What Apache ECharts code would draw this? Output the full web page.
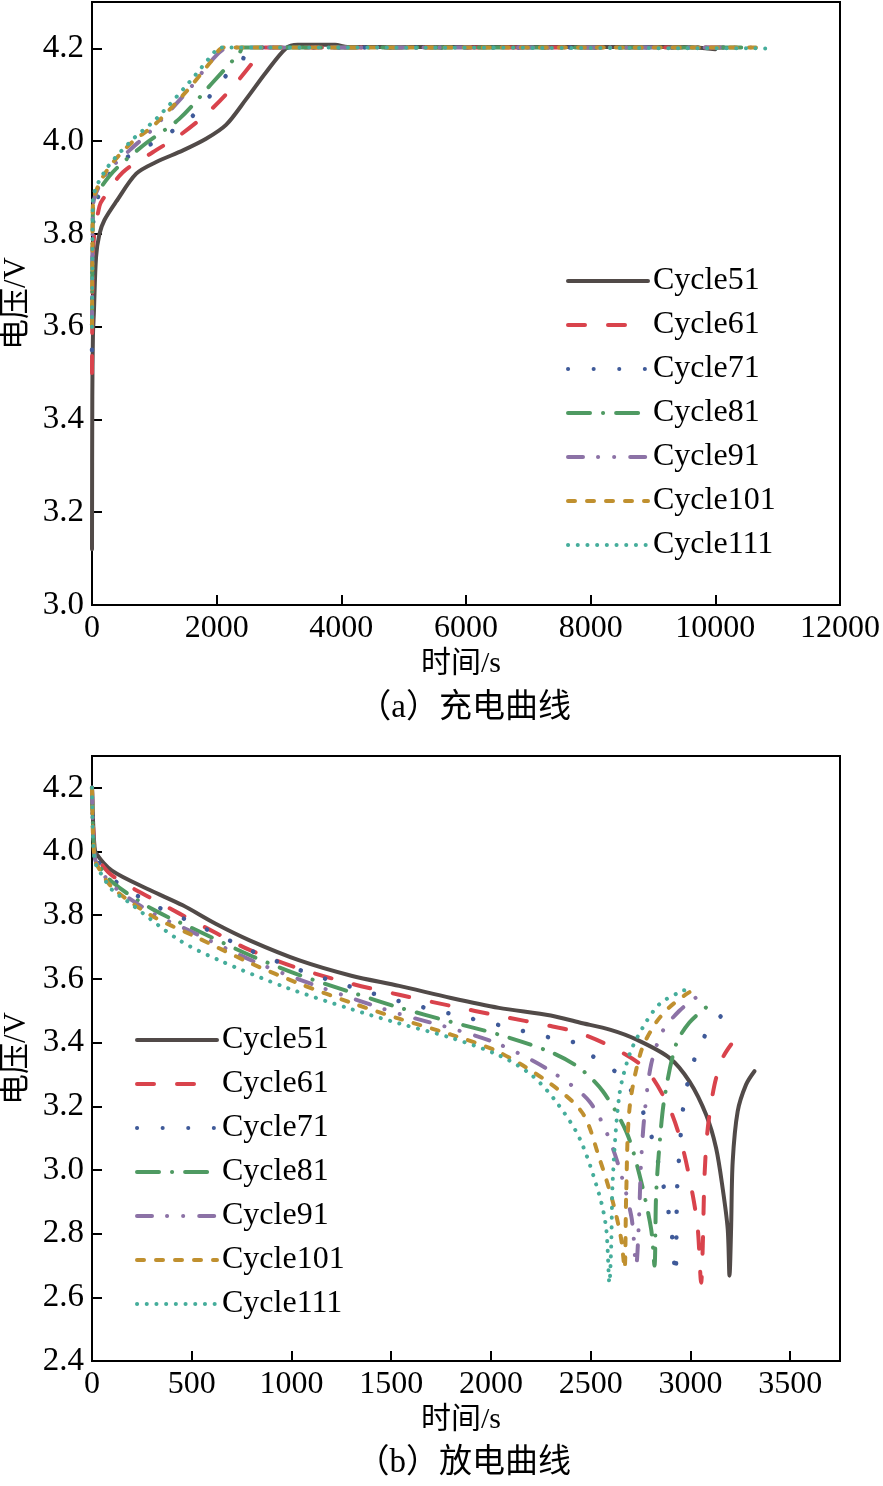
<!DOCTYPE html>
<html>
<head>
<meta charset="utf-8">
<script src="https://cdn.jsdelivr.net/npm/echarts@6/dist/echarts.min.js"></script>
<style>
html,body{margin:0;padding:0;background:#fff;}
#c{width:883px;height:1486px;}
</style>
</head>
<body>
<div id="c"></div>
<script>
// ---------- data ----------
const cycles = ['Cycle51','Cycle61','Cycle71','Cycle81','Cycle91','Cycle101','Cycle111'];

const chargeTicksX = [0, 2000, 4000, 6000, 8000, 10000, 12000];
const chargeTicksY = [3.0, 3.2, 3.4, 3.6, 3.8, 4.0, 4.2];
const dischargeTicksX = [0, 500, 1000, 1500, 2000, 2500, 3000, 3500];
const dischargeTicksY = [2.4, 2.6, 2.8, 3.0, 3.2, 3.4, 3.6, 3.8, 4.0, 4.2];

// charging curves [time s, voltage V]
const charge51 = [[0,3.12],[5,3.45],[15,3.58],[30,3.63],[65,3.75],[120,3.80],[200,3.83],[390,3.87],[710,3.93],[1030,3.955],[1460,3.98],[1830,4.005],[2150,4.035],[2470,4.09],[2790,4.148],[3110,4.2],[3300,4.208],[3900,4.208],[4100,4.203],[9500,4.203],[10000,4.198]];
const charge61 = [[0,3.5],[10,3.72],[30,3.79],[120,3.86],[175,3.875],[495,3.933],[975,3.976],[1400,4.012],[1830,4.058],[2205,4.109],[2580,4.17],[2700,4.195],[2780,4.202],[10300,4.202]];
const charge71 = [[0,3.55],[10,3.76],[40,3.853],[200,3.91],[440,3.954],[1080,4.004],[1620,4.055],[2150,4.141],[2420,4.177],[2530,4.202],[10500,4.202]];
const charge81 = [[0,3.6],[10,3.8],[20,3.86],[280,3.925],[815,3.99],[1400,4.048],[1940,4.127],[2370,4.191],[2420,4.202],[10600,4.202]];
const charge91 = [[0,3.6],[10,3.82],[20,3.865],[230,3.93],[600,3.98],[920,4.019],[1560,4.112],[1940,4.177],[2200,4.202],[10700,4.202]];
const charge101 = [[0,3.6],[10,3.83],[20,3.87],[230,3.935],[620,3.995],[1000,4.035],[1500,4.105],[1900,4.17],[2120,4.202],[10750,4.202]];
const charge111 = [[0,3.6],[10,3.83],[15,3.875],[230,3.94],[655,4.004],[1030,4.048],[1560,4.127],[2000,4.198],[2050,4.202],[10800,4.2]];

// discharging curves [time s, voltage V]
const dis51 = [[0,4.2],[5,4.1],[12,4.02],[20,3.995],[100,3.94],[290,3.879],[455,3.831],[620,3.773],[790,3.721],[1040,3.658],[1300,3.61],[1540,3.578],[1800,3.54],[2040,3.509],[2300,3.485],[2444,3.463],[2600,3.44],[2728,3.41],[2895,3.352],[2995,3.278],[3079,3.173],[3129,3.068],[3162,2.941],[3187,2.815],[3196,2.668],[3204,2.815],[3212,3.026],[3237,3.184],[3279,3.268],[3321,3.31]];
const dis61 = [[0,4.2],[5,4.09],[12,4.01],[20,3.985],[100,3.925],[300,3.852],[439,3.805],[622,3.744],[790,3.691],[1040,3.632],[1300,3.585],[1540,3.55],[1800,3.515],[2040,3.484],[2300,3.452],[2444,3.43],[2628,3.379],[2778,3.315],[2895,3.194],[2962,3.068],[3012,2.92],[3037,2.815],[3054,2.646],[3062,2.762],[3071,2.984],[3087,3.131],[3121,3.268],[3162,3.352],[3204,3.394]];
const dis71 = [[0,4.2],[5,4.08],[12,4.0],[20,3.978],[100,3.915],[300,3.835],[500,3.778],[800,3.688],[1040,3.628],[1300,3.575],[1540,3.53],[1800,3.49],[2040,3.455],[2300,3.415],[2444,3.395],[2511,3.357],[2603,3.32],[2695,3.257],[2761,3.184],[2803,3.11],[2861,2.962],[2904,2.815],[2925,2.668],[2932,2.905],[2937,2.984],[2967,3.215],[2995,3.294],[3029,3.363],[3079,3.428],[3154,3.484]];
const dis81 = [[0,4.2],[5,4.07],[12,3.995],[20,3.972],[100,3.905],[300,3.82],[500,3.76],[800,3.672],[1040,3.612],[1300,3.558],[1540,3.51],[1800,3.465],[2040,3.425],[2300,3.37],[2444,3.32],[2561,3.247],[2678,3.121],[2745,2.984],[2803,2.815],[2820,2.70],[2828,2.92],[2845,3.078],[2870,3.226],[2928,3.394],[2995,3.463],[3087,3.515],[3100,3.52]];
const dis91 = [[0,4.2],[5,4.06],[12,3.99],[20,3.968],[100,3.895],[300,3.808],[500,3.748],[800,3.658],[1040,3.598],[1300,3.54],[1540,3.49],[1800,3.445],[2040,3.395],[2300,3.31],[2494,3.215],[2611,3.068],[2703,2.857],[2728,2.70],[2741,2.826],[2753,3.026],[2770,3.174],[2803,3.331],[2861,3.436],[2945,3.5],[3029,3.542],[3060,3.552]];
const dis101 = [[0,4.2],[5,4.05],[12,3.985],[20,3.963],[100,3.888],[300,3.798],[500,3.738],[800,3.648],[1040,3.585],[1300,3.525],[1540,3.475],[1800,3.425],[2040,3.37],[2300,3.27],[2460,3.178],[2544,3.036],[2611,2.9],[2653,2.783],[2670,2.69],[2678,2.92],[2695,3.194],[2753,3.373],[2828,3.463],[2895,3.511],[2979,3.552],[3000,3.56]];
const dis111 = [[0,4.2],[5,4.04],[12,3.98],[20,3.958],[100,3.88],[171,3.847],[439,3.721],[639,3.658],[973,3.573],[1300,3.505],[1540,3.46],[1800,3.415],[2040,3.36],[2200,3.3],[2320,3.22],[2444,3.10],[2544,2.92],[2578,2.815],[2594,2.646],[2603,2.763],[2611,2.973],[2644,3.236],[2695,3.363],[2761,3.447],[2845,3.521],[2962,3.563],[2985,3.565]];

const chargeData = [charge51, charge61, charge71, charge81, charge91, charge101, charge111];
const dischargeData = [dis51, dis61, dis71, dis81, dis91, dis101, dis111];

// ---------- styles ----------
const colors = ['#514a48','#d9434c','#3f5a99','#4f9a62','#8c72a6','#c0902f','#45ad9b'];
const dashes = ['solid',[17,23],[0.1,25.5],[22,13,0.1,13],[15,15,0.1,16,0.1,16],[7,12],[0.1,9.6]];
const widths = [4,4,4.5,4,4,4,4];

const serif = '"Liberation Serif","Times New Roman",serif';
const cjk = '"Liberation Serif","Noto Sans CJK SC",serif';

function makeSeries(dataList, idx) {
  return dataList.map((d, i) => ({
    name: cycles[i],
    type: 'line',
    xAxisIndex: idx, yAxisIndex: idx,
    data: d,
    symbol: 'none', showSymbol: false,
    smooth: 0.3,
    lineStyle: { color: colors[i], width: widths[i], type: dashes[i], cap: 'round', join: 'round' },
    itemStyle: { color: colors[i] },
    z: 2 + i,
    emphasis: { disabled: true }
  }));
}

function xAxisCfg(grid, max, interval) {
  return {
    type: 'value', gridIndex: grid, min: 0, max: max, interval: interval,
    name: '时间/s', nameLocation: 'middle', nameGap: 44, nameMoveOverlap: false,
    nameTextStyle: { fontFamily: cjk, fontSize: 30, color: '#000', padding: [0, 10, 0, 0] },
    axisLine: { lineStyle: { color: '#000', width: 2 } },
    axisTick: { inside: true, length: 10, lineStyle: { color: '#000', width: 2 } },
    axisLabel: { fontFamily: serif, fontSize: 32, color: '#000', margin: 8, showMaxLabel: max % interval === 0,
      formatter: v => String(v) },
    splitLine: { show: false }
  };
}
function yAxisCfg(grid, min) {
  return {
    type: 'value', gridIndex: grid, min: min, max: 4.3, interval: 0.2,
    name: '电压/V', nameLocation: 'middle', nameGap: 60, nameRotate: 90, nameMoveOverlap: false,
    nameTextStyle: { fontFamily: cjk, fontSize: 31, color: '#000' },
    axisLine: { lineStyle: { color: '#000', width: 2 } },
    axisTick: { inside: true, length: 10, lineStyle: { color: '#000', width: 2 } },
    axisLabel: { fontFamily: serif, fontSize: 33, color: '#000', margin: 8, showMaxLabel: false,
      formatter: v => v.toFixed(1) },
    splitLine: { show: false }
  };
}
function legendCfg(left, top) {
  return {
    orient: 'vertical', left: left, top: top, padding: 0,
    itemWidth: 80, itemHeight: 14, itemGap: 12,
    selectedMode: false,
    data: cycles,
    textStyle: { fontFamily: serif, fontSize: 32, color: '#000', lineHeight: 32 },
    itemStyle: { opacity: 0 },
    lineStyle: { width: 4 }
  };
}

const gridBase = { width: 748, show: true, borderColor: '#000', borderWidth: 2, containLabel: false, outerBoundsMode: 'none' };

const chart = echarts.init(document.getElementById('c'), null, { renderer: 'canvas' });
chart.setOption({
  animation: false,
  backgroundColor: '#fff',
  grid: [
    Object.assign({ left: 92, top: 2, height: 603 }, gridBase),
    Object.assign({ left: 92, top: 756, height: 605 }, gridBase)
  ],
  xAxis: [xAxisCfg(0, 12000, 2000), xAxisCfg(1, 3750, 500)],
  yAxis: [yAxisCfg(0, 3.0), yAxisCfg(1, 2.4)],
  legend: [legendCfg(566, 265), legendCfg(135, 1024)],
  graphic: [
    { type: 'text', x: 571, y: 692, style: { text: '（a）充电曲线', font: '33px ' + cjk, fill: '#000', textAlign: 'right' } },
    { type: 'text', x: 571, y: 1447, style: { text: '（b）放电曲线', font: '33px ' + cjk, fill: '#000', textAlign: 'right' } }
  ],
  series: [...makeSeries(chargeData, 0), ...makeSeries(dischargeData, 1)]
});
</script>
</body>
</html>
